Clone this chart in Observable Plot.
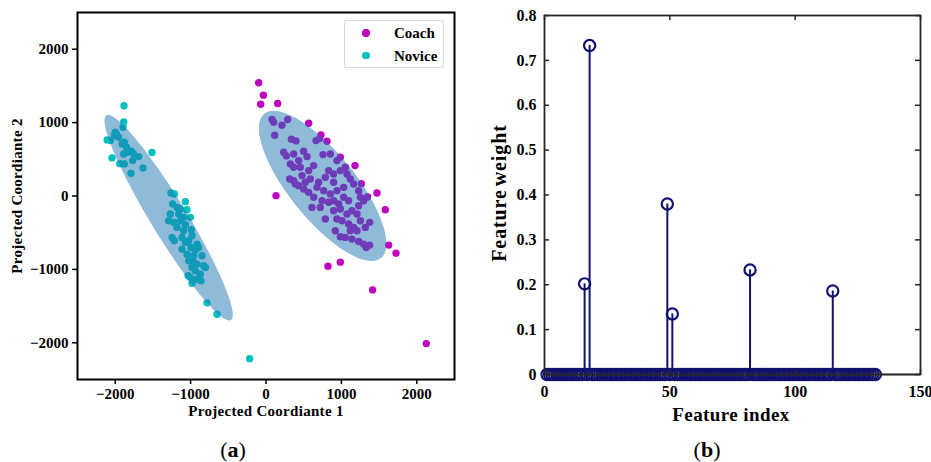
<!DOCTYPE html>
<html>
<head>
<meta charset="utf-8">
<script src="https://cdn.jsdelivr.net/npm/d3@7"></script>
<script src="https://cdn.jsdelivr.net/npm/@observablehq/plot@0.6"></script>
<style>
  html, body { margin: 0; padding: 0; background: #fff; }
  #fig { position: relative; width: 931px; height: 462px; background: #fff; overflow: hidden;
         font-family: "Liberation Serif", "DejaVu Serif", serif; color: #000; }
  .lbl { position: absolute; font-weight: bold; white-space: nowrap; line-height: 1; }
  .cap { position: absolute; font-size: 22px; line-height: 1; white-space: nowrap; transform: translate(-50%, -50%); }
  .legend { position: absolute; left: 344px; top: 20px; width: 100px; height: 48px; border: 1px solid #d6d6d6;
            border-radius: 3px; background: rgba(255,255,255,0.85); box-sizing: border-box; }
  .legend .sw { position: absolute; width: 7.4px; height: 7.4px; border-radius: 50%; }
  .legend .tx { position: absolute; font-weight: bold; font-size: 15px; line-height: 1; transform: translateY(-50%); }
</style>
</head>
<body>
<div id="fig">
  <div id="pa" style="position:absolute;left:0;top:0"></div>
  <div id="pb" style="position:absolute;left:470px;top:0"></div>
</div>
<script>
// ---------- Panel (a) data: projected coordinates ----------
const coachX = [-97,-35,-71,155,133,822,986,1414,2126,1472,1582,1627,1724,1348,1264,1180,986,566,729,809,
  80,102,212,287,115,336,398,663,712,234,270,367,499,756,853,544,323,433,455,566,632,314,367,477,588,698,787,897,941,1052,986,831,
  676,765,853,941,1030,1118,1162,1229,632,743,831,897,964,986,1074,1140,1229,1251,433,499,566,787,897,941,1008,1096,1162,1251,1317,1375,
  919,986,1052,1140,1229,1295,1330,1375,1207,1118,720,610,522,389,367,897,1096,1207,1295,1030,1074];
const coachY = [1542,1374,1251,1260,5,-956,-901,-1279,-2011,41,-187,-669,-778,-14,168,414,528,992,833,746,
  1042,1006,965,1042,828,774,751,755,783,596,546,573,610,564,573,537,437,482,391,346,414,232,209,278,232,187,255,300,482,391,346,346,
  118,73,27,73,118,232,164,73,-18,-64,-86,-64,-109,-177,-246,-200,-132,-18,141,96,50,-314,-200,-314,-337,-382,-428,-337,-428,-359,
  -473,-555,-564,-587,-619,-655,-701,-669,-473,-473,-155,-155,187,164,391,187,-64,-246,-64,-18,300];
const noviceX = [-1883,-1887,-2108,-2042,-1940,-1512,-1070,-1048,-990,-782,-650,-217,-1034,-981,
  -2064,-2011,-1985,-1954,-1909,-1879,-1852,-1887,-1843,-1786,-1755,-1688,-1768,-1879,-1896,-1790,-1631,-1998,
  -1260,-1216,-1238,-1180,-1136,-1269,-1291,-1224,-1136,-1092,-1180,-1070,-1246,-1216,-1114,-1070,-1025,-981,-915,-995,-937,-1114,
  -1048,-959,-893,-849,-827,-915,-981,-937,-871,-804,-1003,-915,-862,-959,-1025,-1092,-1158,-1003];
const noviceY = [1229,1010,764,519,441,592,-77,-187,-460,-1456,-1611,-2216,-1087,-1188,
  755,824,846,801,710,733,664,573,596,610,573,537,482,437,937,309,382,869,
  41,27,-109,-155,-177,-246,-337,-359,-337,-291,-428,-391,-564,-610,-564,-632,-610,-541,-655,-701,-737,-724,
  -792,-814,-701,-814,-951,-928,-974,-1019,-1065,-974,-1110,-1133,-1156,-905,-883,-473,-246,-291];
// confidence ellipses: centre, major half-axis vector, minor half-axis vector (data units)
const ellipseGroups = ["Novice", "Coach"];
const ellipseCenter = [[-1291, -296], [751, 137]];
const ellipseMajor  = [[826, -1395], [774, -983]];
const ellipseMinor  = [[204, 128], [340, 283]];
const ticksA = [-2000, -1000, 0, 1000, 2000];
const seriesNames = ["Coach", "Novice"];
const seriesColors = ["#bf00bf", "#00bfbf"];

// ---------- Panel (b) data: feature weights ----------
const nFeatures = 132;
const nonzeroIndex  = [16, 18, 49, 51, 82, 115];
const nonzeroWeight = [0.202, 0.733, 0.380, 0.135, 0.233, 0.186];
const ticksBX = [0, 50, 100, 150];
const ticksBY = [0, 0.1, 0.2, 0.3, 0.4, 0.5, 0.6, 0.7, 0.8];

// ---------- build tables ----------
const coach = coachX.map((x, i) => ({x, y: coachY[i]}));
const novice = noviceX.map((x, i) => ({x, y: noviceY[i]}));
const ellipses = ellipseGroups.flatMap((g, k) => d3.range(0, 360, 4).map(deg => {
  const t = deg * Math.PI / 180, c = Math.cos(t), s = Math.sin(t);
  return {g,
    x: ellipseCenter[k][0] + c * ellipseMajor[k][0] + s * ellipseMinor[k][0],
    y: ellipseCenter[k][1] + c * ellipseMajor[k][1] + s * ellipseMinor[k][1]};
}));
const features = d3.range(1, nFeatures + 1).map(i => {
  const j = nonzeroIndex.indexOf(i);
  return {i, w: j >= 0 ? nonzeroWeight[j] : 0};
});
const minusFmt = d => d < 0 ? "\u2212" + Math.abs(d) : String(d);
const serif = "'Liberation Serif', 'DejaVu Serif', serif";

// ---------- Panel (a) ----------
const plotA = Plot.plot({
  width: 470, height: 420,
  marginLeft: 77, marginRight: 16, marginTop: 12, marginBottom: 41,
  style: {fontFamily: serif, fontWeight: "bold", fontSize: "15px", color: "#000", background: "transparent"},
  x: {domain: [-2500, 2500]},
  y: {domain: [-2500, 2500]},
  marks: [
    Plot.dot(coach, {x: "x", y: "y", r: 3.7, fill: seriesColors[0], stroke: "none"}),
    Plot.dot(novice, {x: "x", y: "y", r: 3.7, fill: seriesColors[1], stroke: "none"}),
    Plot.line(ellipses, {x: "x", y: "y", z: "g", curve: "linear-closed", fill: "#1f77b4", fillOpacity: 0.5, stroke: "none"}),
    Plot.frame({stroke: "#000", strokeWidth: 2}),
    Plot.axisX({ticks: ticksA, tickFormat: minusFmt, tickSize: 5, tickPadding: 4, strokeWidth: 1.5, label: null, fontSize: 15, fontWeight: "bold"}),
    Plot.axisY({ticks: ticksA, tickFormat: minusFmt, tickSize: 5, tickPadding: 4, strokeWidth: 1.5, label: null, fontSize: 15, fontWeight: "bold"})
  ]
});
document.getElementById("pa").appendChild(plotA);

// ---------- Panel (b) ----------
const navy = "#12126e";
const bW = 461, bH = 420, bL = 74, bR = 11, bT = 15, bB = 46;
const innerW = bW - bL - bR, innerH = bH - bT - bB, tk = 5;
const plotB = Plot.plot({
  width: bW, height: bH,
  marginLeft: bL, marginRight: bR, marginTop: bT, marginBottom: bB,
  style: {fontFamily: serif, fontWeight: "bold", fontSize: "16px", color: "#000", background: "transparent"},
  x: {domain: [0, 150]},
  y: {domain: [0, 0.8]},
  marks: [
    Plot.ruleX(features.filter(d => d.w > 0), {x: "i", y1: 0, y2: "w", stroke: navy, strokeWidth: 2}),
    Plot.dot(features, {x: "i", y: "w", r: 5.6, stroke: navy, strokeWidth: 2.2, fill: "none"}),
    Plot.ruleY([0], {stroke: "#3a3a3a", strokeWidth: 1.5}),
    // inward ticks on all four sides (MATLAB box style)
    Plot.tickX(ticksBX, {x: d => d, insetTop: innerH - tk, stroke: "#262626", strokeWidth: 1.5}),
    Plot.tickX(ticksBX, {x: d => d, insetBottom: innerH - tk, stroke: "#262626", strokeWidth: 1.5}),
    Plot.tickY(ticksBY, {y: d => d, insetRight: innerW - tk, stroke: "#262626", strokeWidth: 1.5}),
    Plot.tickY(ticksBY, {y: d => d, insetLeft: innerW - tk, stroke: "#262626", strokeWidth: 1.5}),
    Plot.frame({stroke: "#262626", strokeWidth: 1.8}),
    Plot.axisX({anchor: "bottom", ticks: ticksBX, tickSize: 0, tickPadding: 11, label: null, fontSize: 16, fontWeight: "bold"}),
    Plot.axisY({anchor: "left", ticks: ticksBY, tickFormat: d => d === 0 ? "0" : d3.format(".1f")(d), tickSize: 0, tickPadding: 8, label: null, fontSize: 16, fontWeight: "bold"})
  ]
});
document.getElementById("pb").appendChild(plotB);

// ---------- text: axis labels, legend, captions ----------
const fig = document.getElementById("fig");
function addLabel(text, x, y, size, rotate, spacing, wordSpacing) {
  const el = document.createElement("div");
  el.className = "lbl";
  el.textContent = text;
  el.style.fontSize = size + "px";
  el.style.left = x + "px";
  el.style.top = y + "px";
  if (spacing) el.style.letterSpacing = spacing + "px";
  if (wordSpacing) el.style.wordSpacing = wordSpacing + "px";
  el.style.transform = "translate(-50%, -50%)" + (rotate ? " rotate(-90deg)" : "");
  fig.appendChild(el);
}
addLabel("Projected Coordiante 1", 266, 411, 15, false, 0.3);
addLabel("Projected Coordiante 2", 17, 196, 15, true, 0.3);
addLabel("Feature index", 731, 414, 19, false, 0.4);
addLabel("Feature weight", 499, 193, 20, true, 0.9, -3);

const lg = document.createElement("div");
lg.className = "legend";
seriesNames.forEach((name, k) => {
  const sw = document.createElement("div");
  sw.className = "sw";
  sw.style.background = seriesColors[k];
  sw.style.left = (22 - 3.7 - 1) + "px";
  sw.style.top = (13 + k * 22.7 - 3.7 - 1) + "px";
  lg.appendChild(sw);
  const tx = document.createElement("div");
  tx.className = "tx";
  tx.textContent = name;
  tx.style.left = "49px";
  tx.style.top = (12 + k * 22.7) + "px";
  lg.appendChild(tx);
});
fig.appendChild(lg);

[["(", "a", ")", 233], ["(", "b", ")", 707]].forEach(([l, m, r, x]) => {
  const c = document.createElement("div");
  c.className = "cap";
  c.style.left = x + "px";
  c.style.top = "450px";
  c.innerHTML = l + "<b>" + m + "</b>" + r;
  fig.appendChild(c);
});
</script>
</body>
</html>
